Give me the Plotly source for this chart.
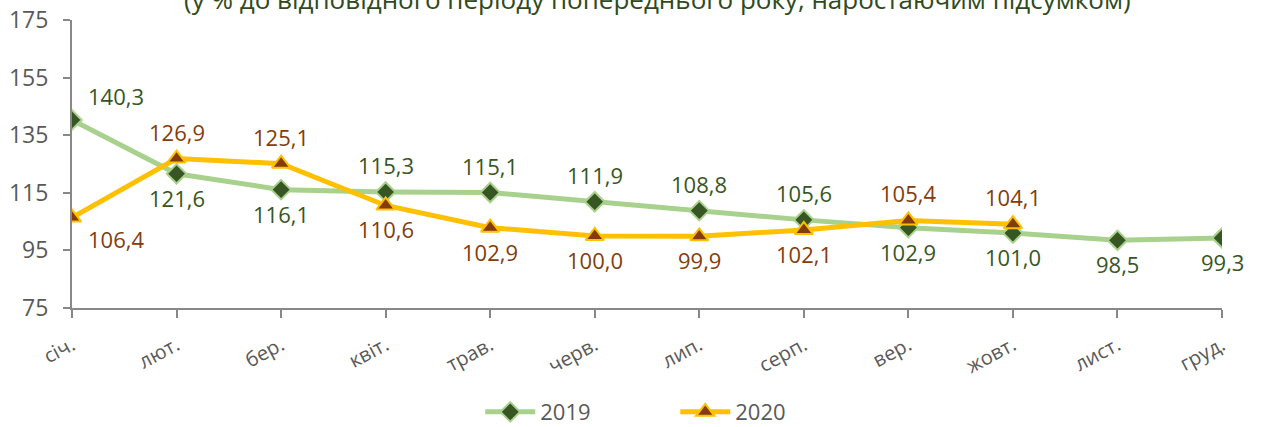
import plotly.graph_objects as go

months = ["січ.", "лют.", "бер.", "квіт.", "трав.", "черв.", "лип.", "серп.", "вер.", "жовт.", "лист.", "груд."]
v2019 = [140.3, 121.6, 116.1, 115.3, 115.1, 111.9, 108.8, 105.6, 102.9, 101.0, 98.5, 99.3]
v2020 = [106.4, 126.9, 125.1, 110.6, 102.9, 100.0, 99.9, 102.1, 105.4, 104.1]
pos2019 = ["ur", "b", "b", "t", "t", "t", "t", "t", "b", "b", "b", "b"]
pos2020 = ["br", "t", "t", "b", "b", "b", "b", "b", "t", "t"]
yticks = [75, 95, 115, 135, 155, 175]

green_line = "#A9D18E"
green_dark = "#375623"
gold = "#FFC000"
brown = "#843C0C"
FONT = "Open Sans"

fig = go.Figure()
fig.add_trace(go.Scatter(
    x=list(range(len(v2019))), y=v2019, name="2019", mode="lines+markers",
    line=dict(color=green_line, width=5),
    marker=dict(symbol="diamond", size=15, color=green_dark, line=dict(color=green_line, width=2)),
))
fig.add_trace(go.Scatter(
    x=list(range(len(v2020))), y=v2020, name="2020", mode="lines+markers",
    line=dict(color=gold, width=5),
    marker=dict(symbol="triangle-up", size=16, color=brown, line=dict(color=gold, width=2)),
))

def fmt(v):
    return f"{v:.1f}".replace(".", ",")

ann = []
def add_labels(vals, poss, color):
    for i, (v, p) in enumerate(zip(vals, poss)):
        xs, ys = 0, 0
        if p == "t":
            ys = 27
        elif p == "b":
            ys = -24
        elif p == "ur":
            xs, ys = 44, 24
        elif p == "br":
            xs, ys = 44, -21
        ann.append(dict(x=i, y=v, xref="x", yref="y", text=fmt(v), showarrow=False,
                        xshift=xs, yshift=ys, font=dict(family=FONT, size=22, color=color)))

add_labels(v2019, pos2019, green_dark)
add_labels(v2020, pos2020, brown)

ann.append(dict(x=0.5, y=1.0, xref="paper", yref="paper", yanchor="middle", yshift=21, xshift=10,
                text="(у % до відповідного періоду попереднього року, наростаючим підсумком)",
                showarrow=False, font=dict(family=FONT, size=26, color="#2F4B1C")))

fig.update_layout(
    width=1263, height=427,
    margin=dict(l=72, r=41, t=20, b=119, autoexpand=False),
    plot_bgcolor="white", paper_bgcolor="white",
    annotations=ann,
    showlegend=True,
    legend=dict(orientation="h", x=0.355, xanchor="left", yref="container", y=0.035, yanchor="middle",
                font=dict(family=FONT, size=22, color="#595959"),
                entrywidth=130, entrywidthmode="pixels", itemwidth=50),
    xaxis=dict(range=[0, 11], tickmode="array", tickvals=list(range(len(months))), ticktext=months,
               tickangle=-28, showgrid=False, zeroline=False, showline=True, linecolor="#888888",
               linewidth=2, ticks="outside", ticklen=8, tickcolor="#888888", tickwidth=2,
               ticklabelstandoff=8,
               automargin=False, tickfont=dict(family=FONT, size=20, color="#595959")),
    yaxis=dict(range=[75, 175], tickvals=yticks, showgrid=False, zeroline=False, showline=True,
               linecolor="#888888", linewidth=2, ticks="outside", ticklen=7, tickcolor="#888888",
               tickwidth=2, ticklabelstandoff=10,
               automargin=False, tickfont=dict(family=FONT, size=23, color="#595959")),
)

fig.write_html("out.html", config={"displayModeBar": False},
               post_script="document.body.style.margin='0';document.body.style.overflow='hidden';")
